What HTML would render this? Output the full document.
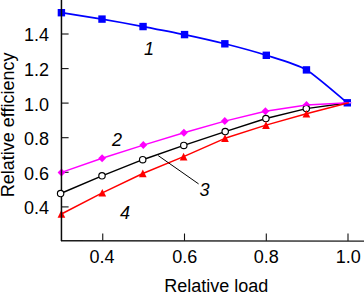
<!DOCTYPE html>
<html>
<head>
<meta charset="utf-8">
<style>
html,body{margin:0;padding:0;background:#fff;}
body{width:364px;height:292px;overflow:hidden;}
svg{display:block;}
text{font-family:"Liberation Sans",sans-serif;font-size:18px;fill:#000;}
.it{font-style:italic;}
</style>
</head>
<body>
<svg width="364" height="292" viewBox="0 0 364 292">
<rect x="0" y="0" width="364" height="292" fill="#fff"/>

<!-- ticks -->
<g stroke="#111" stroke-width="1.1" fill="none">
<line x1="61.45" y1="34.00" x2="68.6" y2="34.00"/>
<line x1="61.45" y1="68.60" x2="68.6" y2="68.60"/>
<line x1="61.45" y1="103.10" x2="68.6" y2="103.10"/>
<line x1="61.45" y1="137.70" x2="68.6" y2="137.70"/>
<line x1="61.45" y1="172.30" x2="68.6" y2="172.30"/>
<line x1="61.45" y1="206.90" x2="68.6" y2="206.90"/>
<line x1="102.75" y1="241" x2="102.75" y2="233.5"/>
<line x1="184.50" y1="241" x2="184.50" y2="233.5"/>
<line x1="266.30" y1="241" x2="266.30" y2="233.5"/>
<line x1="348.00" y1="241" x2="348.00" y2="233.5"/>
</g>
<!-- series 1: blue line, squares -->
<path d="M61.40,12.70 C66.27,13.47 92.20,17.44 102.00,19.10 C111.80,20.76 133.14,24.69 143.05,26.55 C152.96,28.41 174.73,32.53 184.55,34.60 C194.37,36.67 215.04,41.32 224.85,43.80 C234.66,46.28 256.51,52.17 266.30,55.30 C276.09,58.43 296.73,64.20 306.45,69.90 C316.17,75.60 342.40,98.85 347.30,102.80" fill="none" stroke="#0000ff" stroke-width="1.70" stroke-linejoin="round"/>
<g fill="#0000ff">
<rect x="57.70" y="9.00" width="7.4" height="7.4"/>
<rect x="98.30" y="15.40" width="7.4" height="7.4"/>
<rect x="139.35" y="22.85" width="7.4" height="7.4"/>
<rect x="180.85" y="30.90" width="7.4" height="7.4"/>
<rect x="221.15" y="40.10" width="7.4" height="7.4"/>
<rect x="262.60" y="51.60" width="7.4" height="7.4"/>
<rect x="302.75" y="66.20" width="7.4" height="7.4"/>
<rect x="343.60" y="99.10" width="7.4" height="7.4"/>
</g>
<!-- series 2: magenta diamonds -->
<g fill="#ff00ff">
<path d="M61.50,168.40 l3.9,4 l-3.9,4 l-3.9,-4z"/>
<path d="M102.10,154.20 l3.9,4 l-3.9,4 l-3.9,-4z"/>
<path d="M143.30,141.10 l3.9,4 l-3.9,4 l-3.9,-4z"/>
<path d="M183.90,128.80 l3.9,4 l-3.9,4 l-3.9,-4z"/>
<path d="M224.80,117.10 l3.9,4 l-3.9,4 l-3.9,-4z"/>
<path d="M265.40,107.20 l3.9,4 l-3.9,4 l-3.9,-4z"/>
<path d="M306.50,101.00 l3.9,4 l-3.9,4 l-3.9,-4z"/>
</g>
<!-- series 3: black line, open circles -->
<path d="M60.60,193.50 L102.00,175.80 L142.70,159.70 L183.80,145.40 L225.20,131.60 L265.90,118.50 L306.30,108.60 L348.70,102.80" fill="none" stroke="#000" stroke-width="1.45" stroke-linejoin="round"/>
<g fill="#fff" stroke="#000" stroke-width="1.15">
<circle cx="102.00" cy="175.80" r="3.2"/>
<circle cx="142.70" cy="159.70" r="3.2"/>
<circle cx="183.80" cy="145.40" r="3.2"/>
<circle cx="225.20" cy="131.60" r="3.2"/>
<circle cx="265.90" cy="118.50" r="3.2"/>
<circle cx="306.30" cy="108.60" r="3.2"/>
</g>
<!-- series 2: magenta line -->
<path d="M61.50,172.40 L102.10,158.20 L143.30,145.10 L183.90,132.80 L224.80,121.10 L265.40,111.20 L306.50,105.00 L348.70,102.80" fill="none" stroke="#ff00ff" stroke-width="1.45" stroke-linejoin="round"/>
<path d="M348.7,102.8 L352.2,102.8" stroke="#ff9cff" stroke-width="1.2" fill="none"/>
<!-- series 4: red line, triangles -->
<path d="M61.40,214.00 L102.30,192.80 L142.80,173.50 L183.60,156.60 L225.00,138.30 L266.00,125.10 L306.40,113.80 L348.70,102.80" fill="none" stroke="#ff0000" stroke-width="1.45" stroke-linejoin="round"/>
<g fill="#ff0000">
<path d="M61.40,210.10 l3.85,7.7 h-7.7z"/>
<path d="M102.30,188.90 l3.85,7.7 h-7.7z"/>
<path d="M142.80,169.60 l3.85,7.7 h-7.7z"/>
<path d="M183.60,152.70 l3.85,7.7 h-7.7z"/>
<path d="M225.00,134.40 l3.85,7.7 h-7.7z"/>
<path d="M266.00,121.20 l3.85,7.7 h-7.7z"/>
<path d="M306.40,109.90 l3.85,7.7 h-7.7z"/>
</g>
<!-- axes -->
<g stroke="#0a0a0a" fill="none" stroke-linejoin="round" stroke-linecap="round">
<path d="M61.45,240.75 L364,241.1" stroke-width="1.3" stroke="#1c1c1c"/>
<path d="M61.45,0 V240.6" stroke-width="1.5"/>
</g>
<circle cx="60.60" cy="193.50" r="3.2" fill="#fff" stroke="#000" stroke-width="1.15"/>
<!-- leader for 3 -->
<line x1="158.2" y1="155.6" x2="198.6" y2="183.9" stroke="#000" stroke-width="1"/>
<!-- text -->
<text x="24.1" y="41.4">1.4</text>
<text x="24.1" y="76">1.2</text>
<text x="24.1" y="110.5">1.0</text>
<text x="24.1" y="145.1">0.8</text>
<text x="24.1" y="179.7">0.6</text>
<text x="24.1" y="214.3">0.4</text>
<text x="89.4" y="262.8">0.4</text>
<text x="172.2" y="262.8">0.6</text>
<text x="253.7" y="262.8">0.8</text>
<text x="335.8" y="262.8">1.0</text>
<text x="164.2" y="292">Relative load</text>
<text transform="translate(14.3,197.3) rotate(-90)" x="0" y="0">Relative efficiency</text>
<text class="it" x="144" y="55">1</text>
<text class="it" x="112" y="146.4">2</text>
<text class="it" x="199.5" y="196.3">3</text>
<text class="it" x="120" y="219.3">4</text>
</svg>
</body>
</html>
